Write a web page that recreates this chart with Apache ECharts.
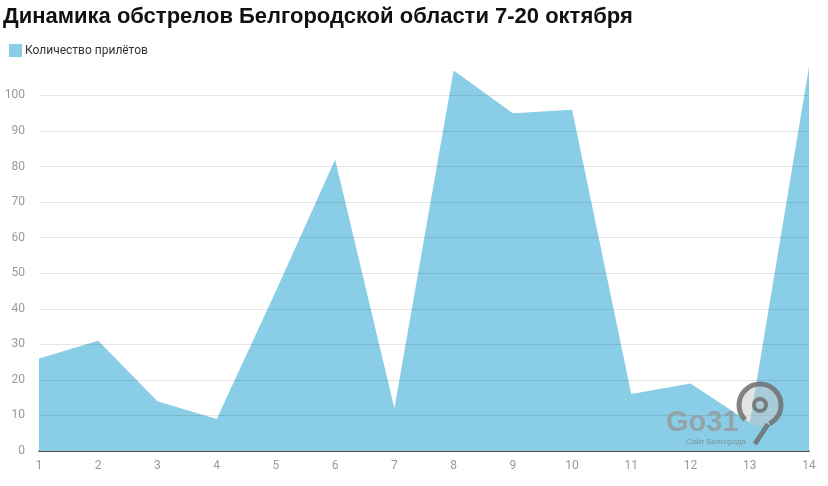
<!DOCTYPE html>
<html><head><meta charset="utf-8">
<script src="https://cdn.jsdelivr.net/npm/echarts@6/dist/echarts.min.js"></script>
<style>html,body{margin:0;padding:0;background:#fff}#c{width:828px;height:486px}</style>
</head><body><div id="c"></div>
<script>
const categories = ['1','2','3','4','5','6','7','8','9','10','11','12','13','14'];
const values = [26, 31, 14, 9, 45, 82, 12, 107, 95, 96, 16, 19, 8, 108];
const seriesName = 'Количество прилётов';
const titleText = 'Динамика обстрелов Белгородской области 7-20 октября';

const chart = echarts.init(document.getElementById('c'), null, {renderer: 'canvas'});
chart.setOption({
  animation: false,
  backgroundColor: '#fff',
  title: {
    text: titleText, left: 3, top: 6, padding: 0,
    textStyle: {fontFamily: 'Liberation Sans, Arial, sans-serif', fontWeight: 'bold', fontSize: 22, color: '#111'}
  },
  legend: {
    left: 4, top: 39, itemWidth: 13, itemHeight: 13, itemGap: 6,
    icon: 'rect',
    textStyle: {fontFamily: 'Roboto, sans-serif', fontSize: 12, color: '#333', padding: [0,0,0,-2]},
    data: [seriesName]
  },
  grid: {left: 39, right: 19, top: 67, bottom: 35},
  xAxis: {
    type: 'category', data: categories, boundaryGap: false,
    axisLine: {lineStyle: {color: '#111', width: 1.5}},
    axisTick: {show: false},
    axisLabel: {color: '#999', fontFamily: 'Roboto, sans-serif', fontSize: 12, margin: 9}
  },
  yAxis: {
    type: 'value', min: 0, max: 108, interval: 10, z: 3,
    axisLine: {show: false}, axisTick: {show: false},
    axisLabel: {color: '#999', fontFamily: 'Roboto, sans-serif', fontSize: 12, margin: 14, showMaxLabel: false},
    splitLine: {lineStyle: {color: 'rgba(0,0,0,0.1)'}, showMaxLine: false, showMinLine: false}
  },
  series: [{
    name: seriesName, type: 'line', data: values,
    symbol: 'none', lineStyle: {width: 0},
    itemStyle: {color: '#89cee6'},
    areaStyle: {color: '#89cee6', opacity: 1},
    z: 1
  }],
  graphic: [
    {type: 'text', left: 666, top: 408, z: 100, style: {text: 'Go31', fill: 'rgba(150,150,150,0.75)', font: 'bold 29px "Liberation Sans", Arial, sans-serif'}},
    {type: 'text', left: 686, top: 438, z: 100, style: {text: 'Сайт Белгорода', fill: 'rgba(120,120,120,0.7)', font: '8px "Liberation Sans", Arial, sans-serif'}},
    {type: 'circle', shape: {cx: 760, cy: 405, r: 21}, z: 99, style: {fill: 'rgba(200,200,200,0.5)'}},
    {type: 'arc', shape: {cx: 760, cy: 405, r: 21, startAngle: Math.PI * 0.75, endAngle: Math.PI * 0.35, clockwise: true}, z: 100, style: {fill: 'none', stroke: 'rgba(110,110,110,0.85)', lineWidth: 5}},
    {type: 'line', shape: {x1: 768, y1: 424, x2: 755, y2: 444}, z: 100, style: {stroke: 'rgba(110,110,110,0.85)', lineWidth: 5}},
    {type: 'circle', shape: {cx: 760, cy: 405, r: 6}, z: 101, style: {fill: 'none', stroke: 'rgba(110,110,110,0.85)', lineWidth: 4}}
  ]
});
</script></body></html>
